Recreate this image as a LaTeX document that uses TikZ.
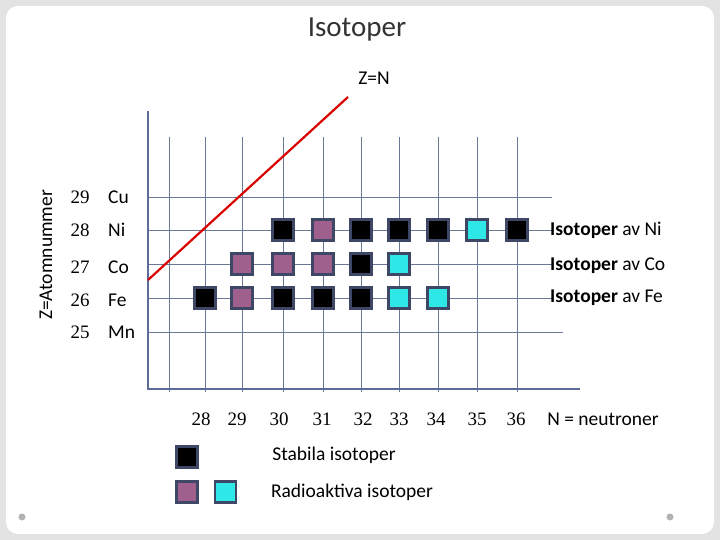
\documentclass[tikz,border=0pt]{standalone}
\usepackage{fontspec}
\setmainfont{Carlito}
\newfontfamily\numfont{Liberation Serif}
\usetikzlibrary{positioning}
\definecolor{gridc}{HTML}{6A7896}
\definecolor{axisc}{HTML}{5D6C96}
\definecolor{rim}{HTML}{3E4866}
\definecolor{radp}{HTML}{A0608E}
\definecolor{radc}{HTML}{2EE8E8}
\begin{document}
\begin{tikzpicture}[x=1pt, y=-1pt, inner sep=1pt, >=latex,
   sq/.style={draw=rim, line width=2.4pt, minimum size=21pt, inner sep=0pt},
   stab/.style={sq, fill=black},
   radp/.style={sq, fill=radp},
   radc/.style={sq, fill=radc},
   lab/.style={font=\fontsize{19.5}{23}\selectfont},
   num/.style={font=\numfont\fontsize{19}{22}\selectfont}
   ]
  \useasboundingbox (0,0) rectangle (720,540);
  \fill[gray!22] (0,0) rectangle (720,540);
  \fill[white, rounded corners=12pt] (6,6) rectangle (714,534);
  \fill[gray!60] (22,517) circle (3.5pt) (670,517) circle (3.5pt);

  \node (title) at (357,30) {\fontsize{29}{34}\selectfont\color{black!80}Isotoper};
  \node[lab] (zn) at (374,78) {Z=N};
  \node[lab, rotate=90] (zaxis) at (46,255) {Z=Atomnummer};

  % grid
  \foreach \x in {169,205,242,283,323,361,399,438,477,517}
    \draw[gridc, line width=0.8pt] (\x,137) -- (\x,392);
  \foreach \y/\len in {197/552,230/552,264/552,298/552,332/563}
    \draw[gridc, line width=0.8pt] (148,\y) -- (\len,\y);
  \draw[axisc, line width=2.4pt] (148,111) -- (148,389) -- (580,389);

  % Z=N
  \draw[red!85!black, line width=2.2pt] (148,280) -- (348,97);

  % row labels
  \foreach \z/\el/\y in {29/Cu/197,28/Ni/230,27/Co/267,26/Fe/300,25/Mn/332}{
    \node[num] (z\z) at (80,\y) {\z};
    \node[lab, anchor=west] (e\z) at (107,\y) {\el};
  }

  % isotopes of Ni
  \foreach \x/\s [count=\i] in {283/stab,323/radp,361/stab,399/stab,438/stab,477/radc,517/stab}
    \node[\s] (ni\i) at (\x,230) {};
  % isotopes of Co
  \foreach \x/\s [count=\i] in {242/radp,283/radp,323/radp,361/stab,399/radc}
    \node[\s] (co\i) at (\x,264) {};
  % isotopes of Fe
  \foreach \x/\s [count=\i] in {205/stab,242/radp,283/stab,323/stab,361/stab,399/radc,438/radc}
    \node[\s] (fe\i) at (\x,298) {};

  \node[lab, anchor=west] (lni) at (549,230) {\textbf{Isotoper} av Ni};
  \node[lab, anchor=west] (lco) at (549,266) {\textbf{Isotoper} av Co};
  \node[lab, anchor=west] (lfe) at (549,298) {\textbf{Isotoper} av Fe};

  % N axis
  \foreach \n/\x in {28/201,29/237,30/279,31/322,32/363,33/399,34/436,35/477,36/516}
    \node[num] (n\n) at (\x,419) {\n};
  \node[lab] (nlab) at (603,419) {N = neutroner};

  % legend
  \node[stab] (keys) at (187,457) {};
  \node[lab] (keystab) at (334,455) {Stabila isotoper};
  \node[radp] (keyp) at (187,492) {};
  \node[radc, right=15pt of keyp] (keyc) {};
  \node[lab] (keyrad) at (352,492) {Radioaktiva isotoper};
\end{tikzpicture}
\end{document}
